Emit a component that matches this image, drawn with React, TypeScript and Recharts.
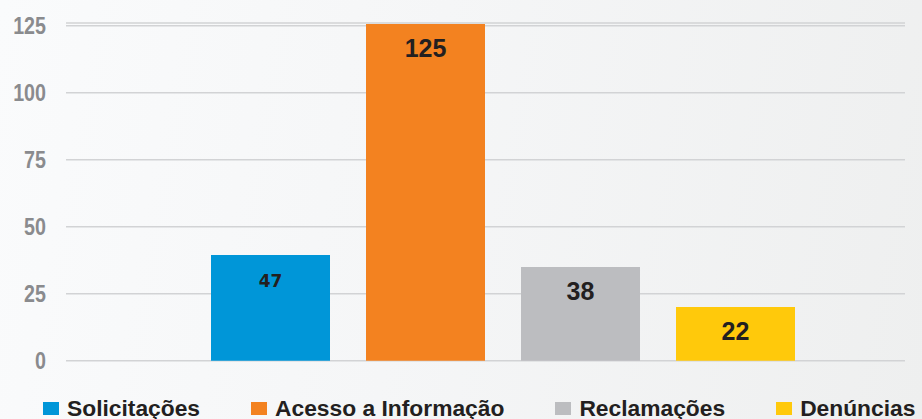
import { BarChart, Bar, XAxis, YAxis, CartesianGrid, Legend, LabelList } from "recharts"

// series as drawn (bar heights) and the numbers printed on them
const seriesNames = ["Solicitações", "Acesso a Informação", "Reclamações", "Denúncias"]
const seriesKeys = ["solicitacoes", "acesso", "reclamacoes", "denuncias"]
const barHeights = [39.4, 125.6, 35, 20]
const printedValues = ["47", "125", "38", "22"]
const colors = ["#0096d8", "#f38220", "#bcbdc0", "#ffc90b"]
const yTicks = [0, 25, 50, 75, 100, 125]

const row: Record<string, number | string> = { name: "total" }
seriesKeys.forEach((k, i) => {
  row[k] = barHeights[i]
})
const data = [row]

function makeLabel(i: number) {
  return (props: any) => {
    const { x, y, width } = props
    const first = i === 0
    return (
      <text
        x={Number(x) + Number(width) / 2}
        y={Number(y) + (first ? 32 : 33)}
        textAnchor="middle"
        fill="#231f20"
        fontFamily={first ? "DejaVu Sans, sans-serif" : "Liberation Sans, Arial, sans-serif"}
        fontWeight="bold"
        fontSize={first ? 17 : 25}
      >
        {printedValues[i]}
      </text>
    )
  }
}

// condensed-looking tick labels
function YTick(props: any) {
  const { x, y, payload } = props
  return (
    <text
      transform={`translate(${x},${y}) scale(0.82,1)`}
      textAnchor="end"
      dy={8.5}
      fill="#8a8b8e"
      fontFamily="Liberation Sans, Arial, sans-serif"
      fontWeight="bold"
      fontSize={24}
    >
      {payload.value}
    </text>
  )
}

function LegendBox() {
  return (
    <div
      style={{
        display: "flex",
        gap: 51,
        paddingLeft: 43,
        height: 30,
        alignItems: "center",
        fontFamily: "Liberation Sans, Arial, sans-serif",
        fontWeight: "bold",
        fontSize: 22.8,
        color: "#231f20",
        whiteSpace: "nowrap",
      }}
    >
      {seriesNames.map((n, i) => (
        <div key={n} style={{ display: "flex", alignItems: "center" }}>
          <span
            style={{
              display: "inline-block",
              width: 16,
              height: 13,
              background: colors[i],
              marginRight: 8,
            }}
          />
          <span>{n}</span>
        </div>
      ))}
    </div>
  )
}

export default function App() {
  return (
    <div
      style={{
        position: "fixed",
        left: 0,
        top: 0,
        width: 922,
        height: 419,
        overflow: "hidden",
        background: "linear-gradient(100deg, #fafbfc 0%, #f5f6f7 45%, #eeefef 100%)",
      }}
    >
      <BarChart
        width={922}
        height={419}
        data={data}
        margin={{ top: 23, right: 17, left: 0, bottom: 28.3 }}
        barSize={119}
        barGap={36}
      >
        <CartesianGrid vertical={false} stroke="#d2d3d5" strokeWidth={1.5} />
        <XAxis dataKey="name" hide padding={{ left: 34, right: 0 }} />
        <YAxis
          width={66}
          domain={[0, 126]}
          ticks={yTicks}
          axisLine={false}
          tickLine={false}
          tickSize={0}
          tickMargin={20}
          tick={<YTick />}
        />
        <Legend
          verticalAlign="bottom"
          content={() => <LegendBox />}
          wrapperStyle={{ top: 393.5, bottom: "auto", left: 0, width: 922 }}
        />
        {seriesKeys.map((k, i) => (
          <Bar key={k} dataKey={k} name={seriesNames[i]} fill={colors[i]} isAnimationActive={false}>
            <LabelList dataKey={k} content={makeLabel(i)} />
          </Bar>
        ))}
      </BarChart>
    </div>
  )
}
